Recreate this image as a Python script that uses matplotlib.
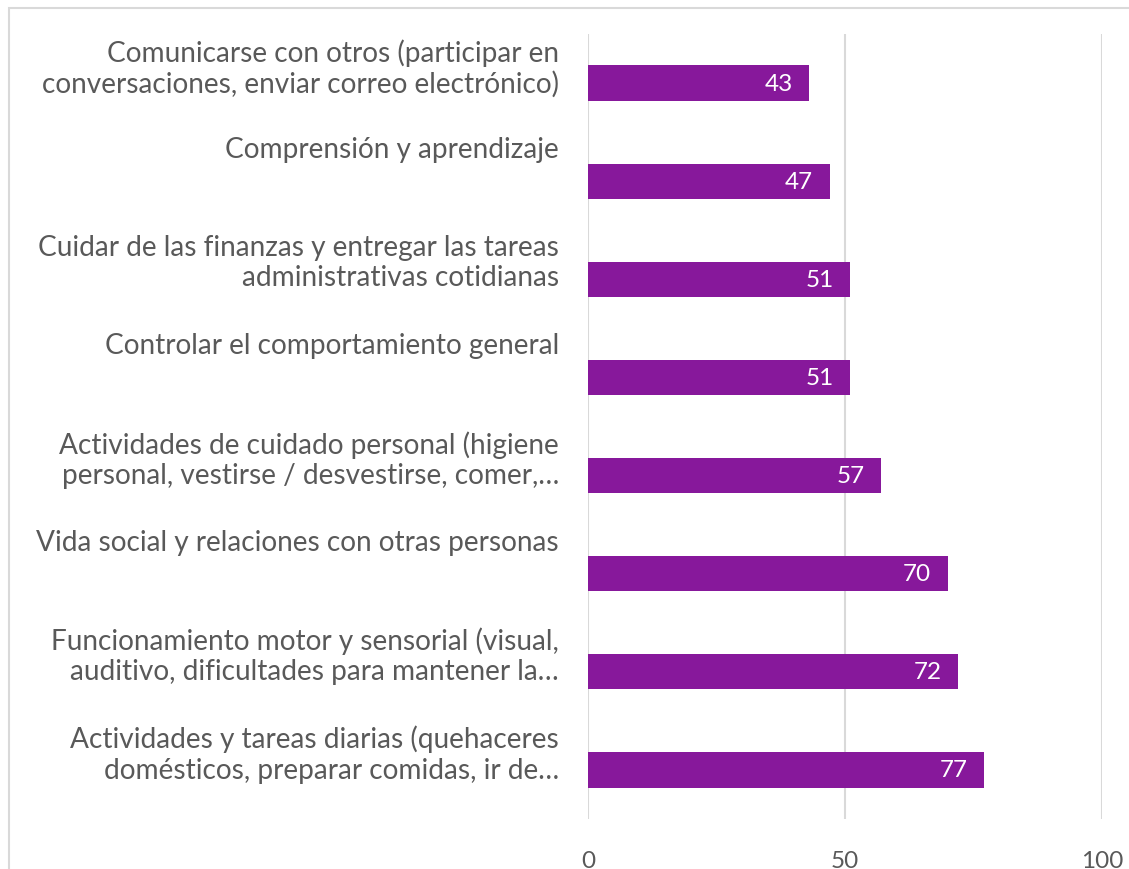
import matplotlib
matplotlib.use("Agg")
import matplotlib.pyplot as plt
import numpy as np
from matplotlib.patches import Rectangle

plt.rcParams['font.family'] = ['Lato', 'DejaVu Sans']

# datos del grafico
categorias = [
    "Comunicarse con otros (participar en\nconversaciones, enviar correo electrónico)",
    "Comprensión y aprendizaje",
    "Cuidar de las finanzas y entregar las tareas\nadministrativas cotidianas",
    "Controlar el comportamiento general",
    "Actividades de cuidado personal (higiene\npersonal, vestirse / desvestirse, comer,…",
    "Vida social y relaciones con otras personas",
    "Funcionamiento motor y sensorial (visual,\nauditivo, dificultades para mantener la…",
    "Actividades y tareas diarias (quehaceres\ndomésticos, preparar comidas, ir de…",
]
valores = [43, 47, 51, 51, 57, 70, 72, 77]
ticks_x = [0, 50, 100]

gris = "#595959"
morado = "#87189B"

fig = plt.figure(figsize=(11.29, 8.7), dpi=100)
W, H = 1129, 870
ax = fig.add_axes([588 / W, 1 - 820 / H, (1102 - 588) / W, (820 - 35) / H])

y = np.arange(len(valores))
ax.barh(y, valores, height=0.36, color=morado, zorder=3)

# etiquetas de valor dentro de la barra
for yi, v in zip(y, valores):
    ax.text(v - 3.2, yi, str(v), color="white", fontsize=17.5,
            ha="right", va="center", zorder=4)

ax.set_xlim(0, 100)
ax.set_ylim(len(valores) - 0.5, -0.5)
ax.set_xticks(ticks_x)
ax.set_xticklabels([str(t) for t in ticks_x], fontsize=17.5, color=gris)
ax.tick_params(axis="x", length=0, pad=22)

# etiquetas de categoria alineadas arriba de cada franja
ax.set_yticks(y - 0.46)
ax.set_yticklabels(categorias, fontsize=20.2, color=gris, va="top",
                   ha="right", linespacing=1.2)
ax.tick_params(axis="y", length=0, pad=21)

ax.grid(axis="x", color="#D9D9D9", linewidth=1.5, zorder=0)
for s in ax.spines.values():
    s.set_visible(False)

# borde del area del grafico
fig.patches.append(Rectangle((9 / W, -0.1), 1.2, 1 - 9 / H + 0.1,
                             transform=fig.transFigure, fill=False,
                             edgecolor="#D9D9D9", linewidth=1.5))

fig.savefig("out.png", dpi=100)
